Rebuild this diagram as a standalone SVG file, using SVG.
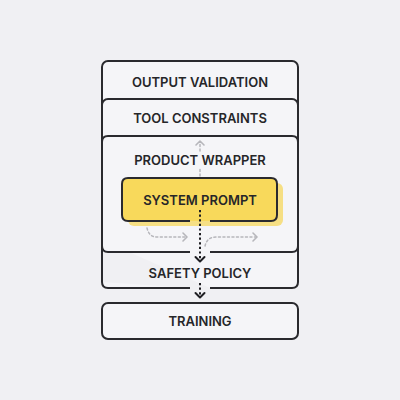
<svg xmlns="http://www.w3.org/2000/svg" width="400" height="400" viewBox="0 0 400 400">
<style>
.box{fill:#f5f5f8;stroke:#2a2a2e;stroke-width:2}
.edge{fill:none;stroke:#2a2a2e;stroke-width:2}
.lbl{font-family:Inter,"Liberation Sans",sans-serif;font-weight:600;font-size:13px;fill:#262629;text-anchor:middle}
.gray{fill:none;stroke:#b6b6bb;stroke-width:1.5;stroke-dasharray:2 2.5;stroke-linecap:round}
.grayhead{fill:none;stroke:#b6b6bb;stroke-width:1.6;stroke-linecap:round;stroke-linejoin:round}
.blk{fill:none;stroke:#1e1e22;stroke-width:2;stroke-dasharray:2.2 2.4}
.blkhead{fill:none;stroke:#1e1e22;stroke-width:2;stroke-linecap:round;stroke-linejoin:round}
</style>
<rect width="400" height="400" fill="#f0f0f3"/>
<g id="output-validation">
<rect class="box" x="102" y="61" width="196" height="50" rx="6"/>
<text class="lbl" x="200" y="86.5">OUTPUT VALIDATION</text>
</g>
<g id="tool-constraints">
<rect class="box" x="102" y="99" width="196" height="50" rx="6"/>
<text class="lbl" x="200" y="122.5">TOOL CONSTRAINTS</text>
</g>
<g id="safety-policy">
<path d="M102,240 H298 V282 Q298,288 292,288 H210 M190,288 H108 Q102,288 102,282 Z" fill="#f5f5f8" stroke="none"/>
<path class="edge" d="M210,288 H292 Q298,288 298,282 V240 M102,240 V282 Q102,288 108,288 H190"/>
<text class="lbl" x="200" y="277.5">SAFETY POLICY</text>
</g>
<g id="product-wrapper">
<rect x="102" y="136" width="196" height="116" rx="6" fill="#f5f5f8"/>
<path class="edge" d="M210,252 H292 Q298,252 298,246 V142 Q298,136 292,136 H108 Q102,136 102,142 V246 Q102,252 108,252 H190"/>
<text class="lbl" x="200" y="164.5">PRODUCT WRAPPER</text>
</g>
<g id="system-prompt">
<rect x="128" y="183" width="155" height="43" rx="6" fill="#f6df84"/>
<rect x="122" y="178" width="155" height="43" rx="6" fill="#f8d95b"/>
<path class="edge" d="M210,221 H271 Q277,221 277,215 V184 Q277,178 271,178 H128 Q122,178 122,184 V215 Q122,221 128,221 H190"/>
<text class="lbl" x="200" y="204.5">SYSTEM PROMPT</text>
</g>
<g id="training">
<rect class="box" x="102" y="303" width="196" height="36" rx="6"/>
<text class="lbl" x="200" y="326">TRAINING</text>
</g>
<g id="connectors">
<path class="gray" d="M200,176 V168 M200,151 V142"/>
<path class="grayhead" d="M196,145 L200,141 L204,145"/>
<path class="gray" d="M147,228 Q149,237 157,237 H187"/>
<path class="grayhead" d="M183,233 L187,237 L183,241"/>
<path class="gray" d="M205,246 Q207,237 216,237 H257"/>
<path class="grayhead" d="M253,233 L257,237 L253,241"/>
<path class="blk" d="M200,210 V261"/>
<path class="blkhead" d="M195.5,257 L200,261.5 L204.5,257"/>
<path class="blk" d="M200,283 V297"/>
<path class="blkhead" d="M195.5,293 L200,297.5 L204.5,293"/>
</g>
</svg>
